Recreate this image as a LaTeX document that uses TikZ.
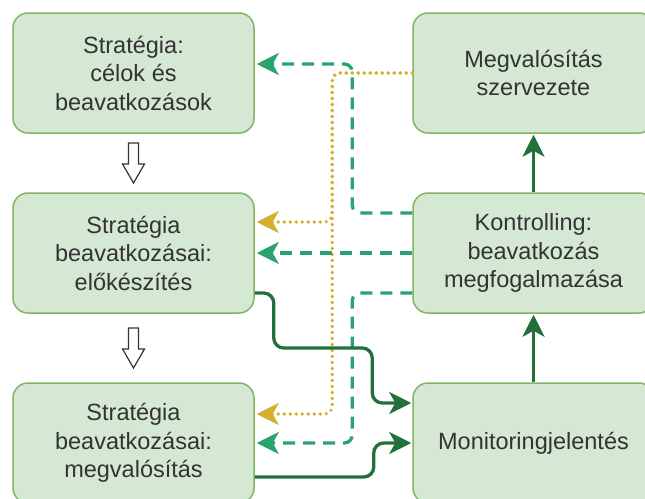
\documentclass[tikz,border=0pt]{standalone}
\usepackage{fontspec}
\setmainfont{Liberation Sans}
\usetikzlibrary{arrows.meta,calc}
\definecolor{boxfill}{HTML}{D5E8D4}
\definecolor{boxborder}{HTML}{82B366}
\definecolor{textgray}{HTML}{333333}
\definecolor{darkgreen}{HTML}{23703A}
\definecolor{dashgreen}{HTML}{2BA36E}
\definecolor{dotyellow}{HTML}{D4B030}
\tikzset{
  box/.style={draw=boxborder, fill=boxfill, line width=1.5pt, rounded corners=15pt,
    minimum width=241pt, minimum height=120pt, align=center, text=textgray,
    font=\fontsize{23.5}{28.5}\selectfont, inner sep=0pt},
  tipx/.style={-{Stealth[length=22pt,width=22pt,inset=6pt]}},
  solidcon/.style={draw=darkgreen, line width=3.3pt, rounded corners=10pt, tipx, shorten >=1pt},
  dashcon/.style={draw=dashgreen, line width=3.3pt, rounded corners=8pt, dash pattern=on 12pt off 8pt, tipx, shorten >=2pt},
  dotcon/.style={draw=dotyellow, line width=3.6pt, rounded corners=8pt, line cap=round, dash pattern=on 0pt off 6pt, tipx, shorten >=2pt},
  hollow/.style={draw=textgray, fill=white, line width=1.2pt, line join=miter}
}
\begin{document}
\begin{tikzpicture}[x=1pt,y=1pt]
\useasboundingbox (0,0) rectangle (645,-498);
\clip (0,0) rectangle (645,-498);
\node[box] (A) at (133.5,-73) {Stratégia:\\célok és\\beavatkozások};
\node[box] (B) at (133.5,-253) {Stratégia\\beavatkozásai:\\előkészítés};
\node[box] (C) at (133.5,-443) {Stratégia\\beavatkozásai:\\megvalósítás};
\node[box] (D) at (533.5,-73) {Megvalósítás\\szervezete};
\node[box] (E) at (533.5,-253) {Kontrolling:\\beavatkozás\\megfogalmazása};
\node[box] (F) at (533.5,-443) {Monitoringjelentés};

% hollow arrows
\coordinate (m1) at ($(A.south)!0.5!(B.north)$);
\coordinate (m2) at ($(B.south)!0.5!(C.north)$);
\foreach \m in {m1,m2}{
  \draw[hollow] (\m) ++(-5,20) -- ++(10,0) -- ++(0,-21) -- ++(6,0) -- ++(-11,-19) -- ++(-11,19) -- ++(6,0) -- cycle;
}

% yellow dotted
\draw[dotcon] (D.west) -- ++(-80,0) |- ([yshift=31pt]B.east);
\draw[dotcon] (D.west) -- ++(-80,0) |- ([yshift=29pt]C.east);

% dashed green
\draw[dashcon] ([yshift=40pt]E.west) -- ++(-60,0) |- ([yshift=9pt]A.east);
\draw[dashcon] (E.west) -- (B.east);
\draw[dashcon] ([yshift=-40pt]E.west) -- ++(-60,0) |- (C.east);

% dark green solid
\draw[solidcon] ([yshift=-40pt]B.east) -- ++(19,0) -- ++(0,-55) -| ($([yshift=40pt]F.west)+(-40,0)$) -- ([yshift=40pt]F.west);
\draw[solidcon] ([yshift=-34pt]C.east) -- ++(119,0) |- (F.west);
\draw[solidcon] (E.north) -- (D.south);
\draw[solidcon] (F.north) -- (E.south);
\end{tikzpicture}
\end{document}
